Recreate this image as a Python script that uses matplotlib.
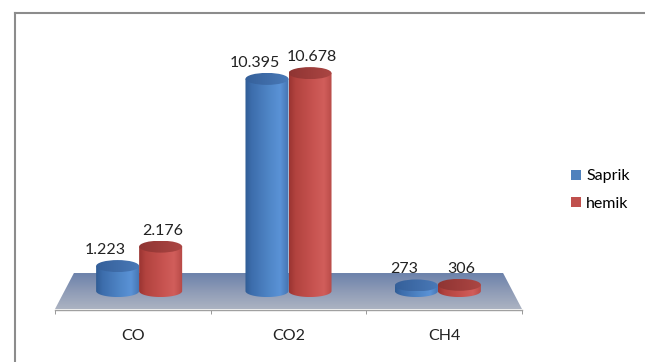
import numpy as np
import matplotlib
matplotlib.use("Agg")
import matplotlib.pyplot as plt
from matplotlib.patches import Polygon, Ellipse, Patch
from matplotlib.lines import Line2D
from matplotlib.colors import LinearSegmentedColormap

# ---------------- data ----------------
categories = ["CO", "CO2", "CH4"]
series_names = ["Saprik", "hemik"]
saprik = [1223, 10395, 273]
hemik = [2176, 10678, 306]

# ---------------- layout ----------------
W, H = 645, 362
plt.rcParams['font.family'] = ['Lato', 'DejaVu Sans']
FS = 11.5
fig = plt.figure(figsize=(W / 100, H / 100), dpi=100)

ax_left, ax_bottom, ax_w, ax_h = 55, 52, 467, 280   # pixels
ax = fig.add_axes([ax_left / W, ax_bottom / H, ax_w / W, ax_h / H])
n = len(categories)
ymin, ymax = -930, 12790
ax.set_xlim(0, n)
ax.set_ylim(ymin, ymax)
ax.set_autoscale_on(False)


def px_dy(px):
    return px * (ymax - ymin) / ax_h


# perspective of the floor
cx = n / 2
top_scale = 0.919
mid_scale = (1 + top_scale) / 2
floor_half = px_dy(18)


def persp(x, s):
    return cx + (x - cx) * s


floor_xy = [(0, -floor_half), (n, -floor_half),
            (persp(n, top_scale), floor_half), (persp(0, top_scale), floor_half)]
floor = Polygon(floor_xy, closed=True, facecolor='none', edgecolor='none')
ax.add_patch(floor)
floor_cmap = LinearSegmentedColormap.from_list('floor', ['#acb3c2', '#8e9bb6', '#6c82ab'])
im = ax.imshow(np.linspace(0, 1, 256).reshape(-1, 1), extent=(0, n, -floor_half, floor_half),
               origin='lower', cmap=floor_cmap, aspect='auto', zorder=1, interpolation='bilinear')
im.set_clip_path(floor)

# cylinders
bar_w = 0.288
ell_h = px_dy(6)
body_cmaps = [
    LinearSegmentedColormap.from_list('b', [(0, '#2f5c95'), (0.15, '#3d6dac'), (0.55, '#4f86c7'),
                                            (0.8, '#5a92d6'), (1.0, '#4473b0')]),
    LinearSegmentedColormap.from_list('r', [(0, '#9a3431'), (0.15, '#b2433f'), (0.55, '#c75350'),
                                            (0.8, '#d15e5b'), (1.0, '#b54845')]),
]
top_cmaps = [
    LinearSegmentedColormap.from_list('bt', ['#35609a', '#3f6ca8', '#4a7ab8']),
    LinearSegmentedColormap.from_list('rt', ['#8f3533', '#9e3d3b', '#ac4744']),
]
label_dx_px = [-12, 2]
hgrad = np.linspace(0, 1, 256).reshape(1, -1)


def fmt(v):
    return f"{v:,}".replace(",", ".")


for j, vals in enumerate([saprik, hemik]):
    for i, v in enumerate(vals):
        x0 = i + 0.5 + (j - 1) * bar_w
        xl = persp(x0, mid_scale)
        xr = persp(x0 + bar_w, mid_scale)
        xc = (xl + xr) / 2
        rx = (xr - xl) / 2
        t = np.linspace(0, np.pi, 80)
        verts = [(xl, v), (xr, v), (xr, 0)] + \
                [(xc + rx * np.cos(tt), -ell_h * np.sin(tt)) for tt in t] + [(xl, v)]
        body = Polygon(verts, closed=True, facecolor='none', edgecolor='none')
        ax.add_patch(body)
        b = ax.imshow(hgrad, extent=(xl, xr, -ell_h, v), cmap=body_cmaps[j], aspect='auto',
                      zorder=2, interpolation='bilinear')
        b.set_clip_path(body)
        top = Ellipse((xc, v), 2 * rx, 2 * ell_h, facecolor='none', edgecolor='none')
        ax.add_patch(top)
        tp = ax.imshow(hgrad, extent=(xl, xr, v - ell_h, v + ell_h), cmap=top_cmaps[j],
                       aspect='auto', zorder=3, interpolation='bilinear')
        tp.set_clip_path(top)
        ax.annotate(fmt(v), xy=(xc, v), xytext=(label_dx_px[j] * 0.72, 16 * 0.72),
                    textcoords='offset points', ha='center', va='center',
                    fontsize=FS, color='#222222', zorder=5)

# axes styling
for s in ['top', 'right', 'left']:
    ax.spines[s].set_visible(False)
ax.spines['bottom'].set_color('#a0a0a0')
ax.spines['bottom'].set_linewidth(1.0)
ax.set_yticks([])
ax.set_xticks([k + 0.5 for k in range(n)])
ax.set_xticklabels(categories, fontsize=FS, color='#222222')
ax.set_xticks(range(n + 1), minor=True)
ax.tick_params(axis='x', which='major', length=0, pad=14)
ax.tick_params(axis='x', which='minor', length=3, color='#888888', direction='out')
ax.patch.set_visible(False)

# legend
handles = [Patch(facecolor=c, edgecolor='none') for c in ['#4f81bd', '#c0504d']]
fig.legend(handles, series_names, loc='center left', bbox_to_anchor=(571 / W, 1 - 190 / H),
           frameon=False, fontsize=FS, handlelength=0.6, handleheight=0.6,
           handletextpad=0.35, labelspacing=0.85, borderpad=0, borderaxespad=0)

# chart border (left and top edges only are visible)
bx, by = 14.5 / W, 1 - 12.5 / H
fig.add_artist(Line2D([bx, bx], [-0.05, by], transform=fig.transFigure,
                      color='#8c8c8c', linewidth=1.5, solid_capstyle='projecting'))
fig.add_artist(Line2D([bx, 1.05], [by, by], transform=fig.transFigure,
                      color='#8c8c8c', linewidth=1.5, solid_capstyle='projecting'))

fig.savefig('out.png', dpi=100)
